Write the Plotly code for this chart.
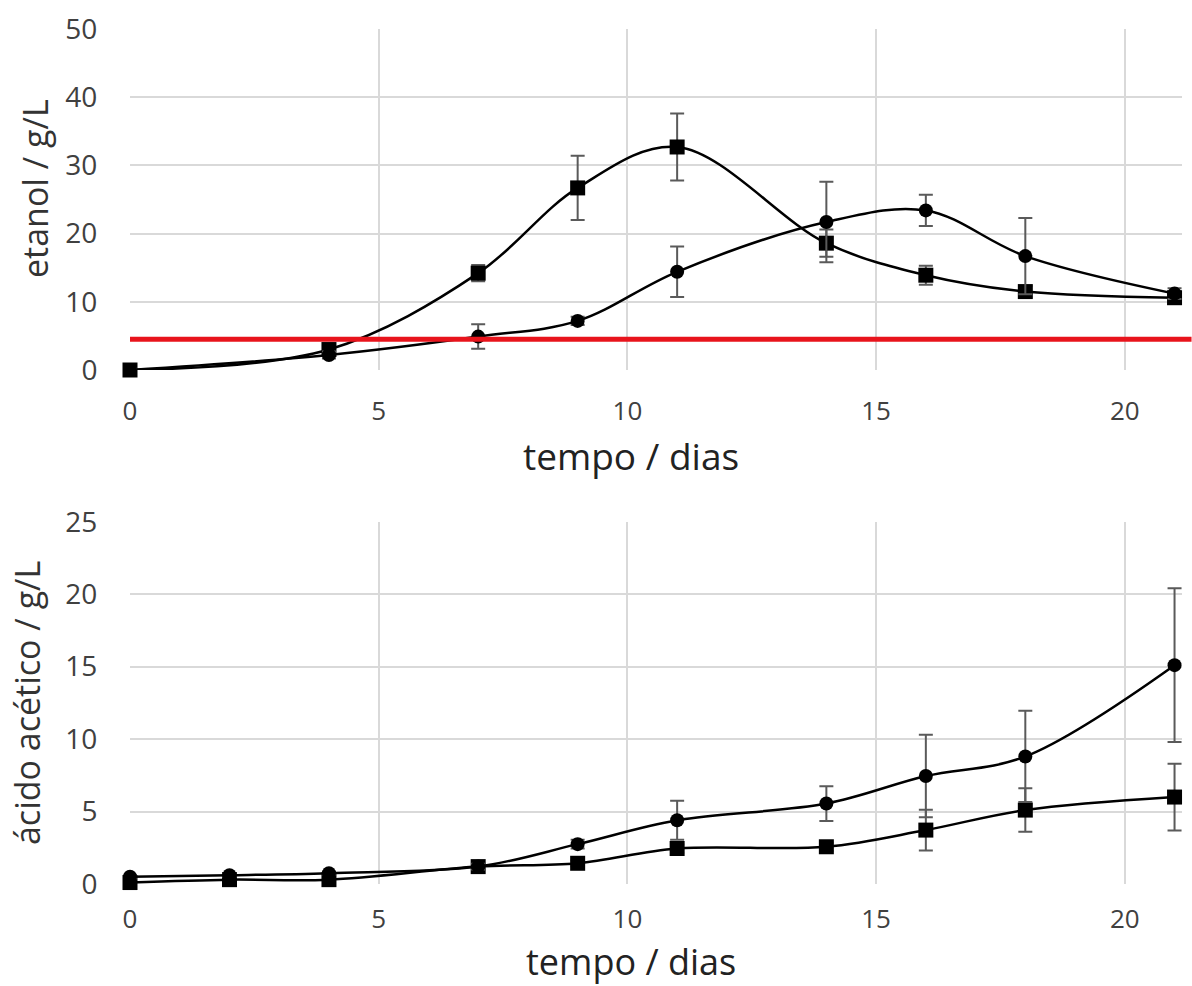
import plotly.graph_objects as go

# ---------------- data ----------------
# top panel: ethanol (g/L)
t_top = [0, 4, 7, 9, 11, 14, 16, 18, 21]
eth_sq = [0.0, 3.0, 14.2, 26.7, 32.7, 18.6, 13.9, 11.5, 10.6]
eth_sq_err = [0.3, 0.6, 1.2, 4.7, 4.9, 2.0, 1.4, 0.8, 0.8]
eth_ci = [0.0, 2.2, 4.9, 7.2, 14.4, 21.7, 23.4, 16.7, 11.2]
eth_ci_err = [0.2, 0.5, 1.8, 0.6, 3.7, 5.9, 2.3, 5.6, 0.8]
eth_limit = 4.5

# bottom panel: acetic acid (g/L)
t_bot = [0, 2, 4, 7, 9, 11, 14, 16, 18, 21]
ac_ci = [0.5, 0.6, 0.75, 1.2, 2.75, 4.4, 5.55, 7.45, 8.8, 15.1]
ac_ci_err = [0.1, 0.1, 0.1, 0.2, 0.3, 1.35, 1.2, 2.85, 3.15, 5.3]
ac_sq = [0.1, 0.3, 0.3, 1.2, 1.43, 2.45, 2.57, 3.72, 5.1, 6.0]
ac_sq_err = [0.1, 0.1, 0.1, 0.2, 0.2, 0.3, 0.3, 1.4, 1.5, 2.3]

x_ticks = [0, 5, 10, 15, 20]
y_ticks_top = [0, 10, 20, 30, 40, 50]
y_ticks_bot = [0, 5, 10, 15, 20, 25]
x_max = 21.15

# ---------------- styles ----------------
W, H = 1192, 986
PX_PER_DAY = 1045 / 21
L, T, B = 130, 29, 102                  # margins (px)
R = W - L - PX_PER_DAY * x_max
PW, PH = W - L - R, H - T - B           # plot-area size (px)
FONT = "Open Sans"
GRID = "#d9d9d9"
TICKC = "#404040"
ERRC = "#5a5a5a"


def px_to_paper(px, py):
    return (px - L) / PW, (H - B - py) / PH


def series(x, y, err, symbol, size, xa, ya):
    return go.Scatter(
        x=x, y=y, xaxis=xa, yaxis=ya,
        mode="lines+markers",
        line=dict(color="black", width=2.5, shape="spline", smoothing=1.0),
        marker=dict(symbol=symbol, size=size, color="black"),
        error_y=dict(type="data", array=err, visible=True, color=ERRC,
                     thickness=2, width=7),
        cliponaxis=False,
        showlegend=False,
    )


fig = go.Figure()
fig.add_trace(series(t_top, eth_sq, eth_sq_err, "square", 15, "x", "y"))
fig.add_trace(series(t_top, eth_ci, eth_ci_err, "circle", 14, "x", "y"))
fig.add_trace(series(t_bot, ac_sq, ac_sq_err, "square", 15, "x2", "y2"))
fig.add_trace(series(t_bot, ac_ci, ac_ci_err, "circle", 14, "x2", "y2"))

ydom_top = [px_to_paper(0, 370)[1], 1.0]
ydom_bot = [0.0, px_to_paper(0, 521.7)[1]]

common_x = dict(
    range=[0, x_max], tickvals=x_ticks, showgrid=True, gridcolor=GRID, gridwidth=2,
    zeroline=False, showline=False, ticks="outside", ticklen=0,
    tickfont=dict(family=FONT, size=26, color=TICKC),
    automargin=False, domain=[0, 1],
)
common_y = dict(
    showgrid=True, gridcolor=GRID, gridwidth=2, zeroline=False, showline=False,
    ticks="outside", ticklen=0, automargin=False,
    tickfont=dict(family=FONT, size=28, color=TICKC),
    ticklabelstandoff=26,
)

fig.update_layout(
    width=W, height=H,
    margin=dict(l=L, r=R, t=T, b=B, autoexpand=False),
    paper_bgcolor="white", plot_bgcolor="white",
    font=dict(family=FONT, color="#222222"),
    hovermode=False,
    xaxis=dict(common_x, anchor="y", ticklabelstandoff=18),
    yaxis=dict(common_y, range=[0, 50], tickvals=y_ticks_top, domain=ydom_top, anchor="x"),
    xaxis2=dict(common_x, anchor="y2", ticklabelstandoff=12),
    yaxis2=dict(common_y, range=[0, 25], tickvals=y_ticks_bot, domain=ydom_bot, anchor="x2"),
)

# red limit line in top panel (extends past the plot to the figure edge)
fig.add_shape(type="line", xref="paper", yref="y",
              x0=0, x1=px_to_paper(W, 0)[0], y0=eth_limit, y1=eth_limit,
              line=dict(color="#e8141c", width=5), layer="above")


def title(text, px, py, size, angle=0, color="#222222"):
    x, y = px_to_paper(px, py)
    fig.add_annotation(text=text, xref="paper", yref="paper", x=x, y=y,
                       showarrow=False, textangle=angle,
                       xanchor="center", yanchor="middle",
                       font=dict(family=FONT, size=size, color=color))


title("tempo / dias", 631, 456, 37)
title("tempo / dias", 631, 961, 36)
title("etanol / g/L", 35, 189, 34, -90, "#333333")
title("ácido acético / g/L", 27, 703, 34, -90, "#333333")

fig.write_html("out.html",
               config={"displayModeBar": False},
               post_script="document.body.style.margin='0';"
                           "document.body.style.overflow='hidden';")
